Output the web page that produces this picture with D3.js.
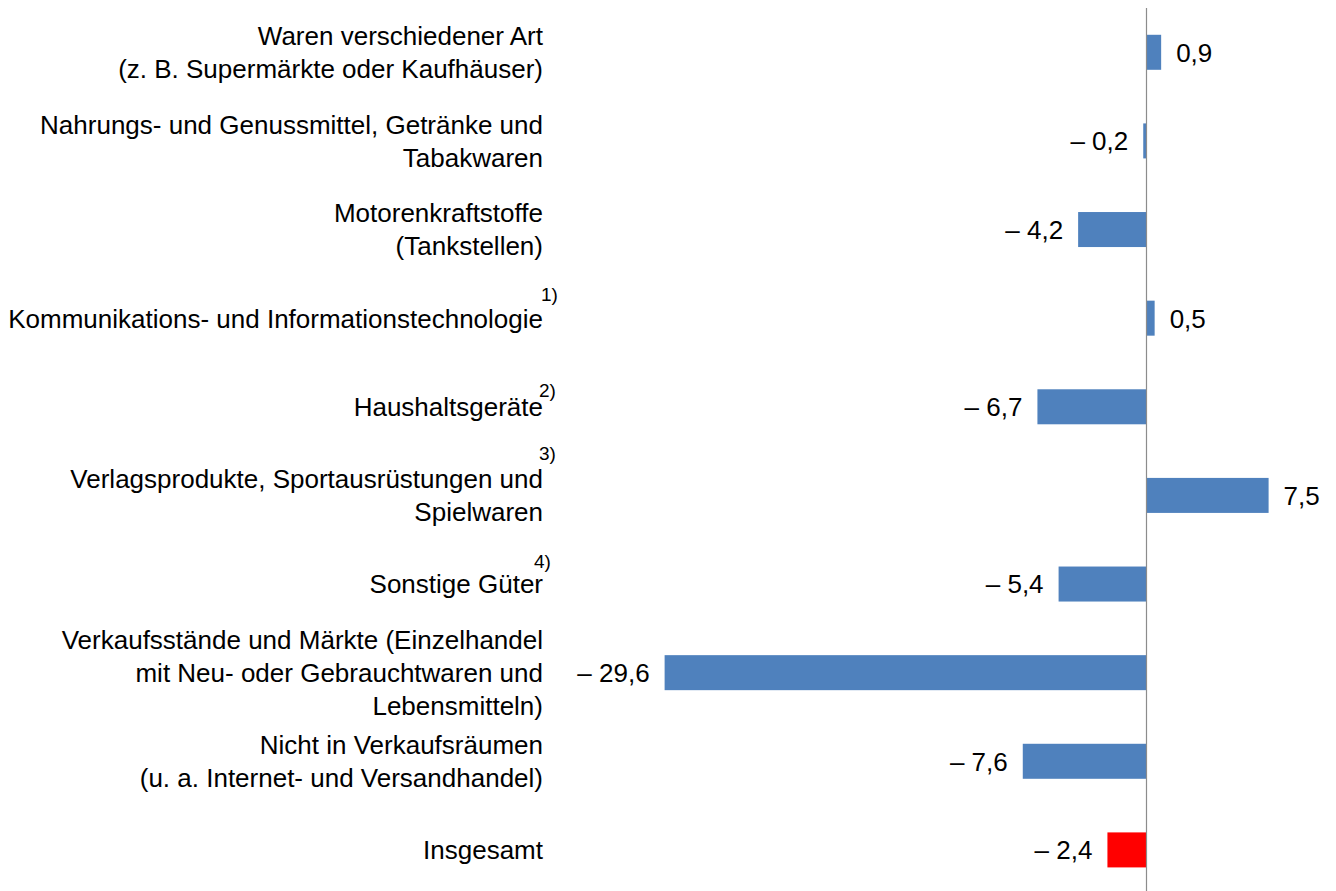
<!DOCTYPE html>
<html>
<head>
<meta charset="utf-8">
<script src="https://cdn.jsdelivr.net/npm/d3@7"></script>
<style>
  body { margin: 0; background: #fff; }
  text { font-family: "Liberation Sans", Arial, sans-serif; fill: #000; }
</style>
</head>
<body>
<div id="chart"></div>
<script>
// label lines per category (top to bottom)
const categories = [
  ["Waren verschiedener Art", "(z. B. Supermärkte oder Kaufhäuser)"],
  ["Nahrungs- und Genussmittel, Getränke und", "Tabakwaren"],
  ["Motorenkraftstoffe", "(Tankstellen)"],
  ["Kommunikations- und Informationstechnologie"],
  ["Haushaltsgeräte"],
  ["Verlagsprodukte, Sportausrüstungen und", "Spielwaren"],
  ["Sonstige Güter"],
  ["Verkaufsstände und Märkte (Einzelhandel", "mit Neu- oder Gebrauchtwaren und", "Lebensmitteln)"],
  ["Nicht in Verkaufsräumen", "(u. a. Internet- und Versandhandel)"],
  ["Insgesamt"]
]
const values = [0.9, -0.2, -4.2, 0.5, -6.7, 7.5, -5.4, -29.6, -7.6, -2.4]
const footnotes = ["", "", "", "1)", "2)", "3)", "4)", "", "", ""]

const width = 1336, height = 891
const zeroX = 1146.5, pxPerUnit = 16.28
const labelRight = 543
const lineH = 33
// where the footnote marks sit: [x, offset above first line centre]
const fnPos = {"1)": [541, 24], "2)": [539, 17], "3)": [539, 26], "4)": [534, 23]}

const svg = d3.select("#chart")
  .append("svg")
  .attr("width", width)
  .attr("height", height)

const x = d3.scaleLinear()
  .domain([-30, 10])
  .range([zeroX - 30 * pxPerUnit, zeroX + 10 * pxPerUnit])

const y = d3.scaleBand()
  .domain(d3.range(values.length))
  .range([8.2, 894])
  .paddingInner(0.605)
  .paddingOuter(0.3)

const fmt = v => (v < 0 ? "\u2013 " : "") + d3.format(".1f")(Math.abs(v)).replace(".", ",")

// bars
svg.selectAll(".bar")
  .data(values)
  .enter()
  .append("rect")
  .attr("class", "bar")
  .attr("x", d => x(Math.min(0, d)))
  .attr("width", d => Math.abs(x(d) - x(0)))
  .attr("y", (d, i) => y(i))
  .attr("height", y.bandwidth())
  .style("fill", (d, i) => i === values.length - 1 ? "#ff0000" : "#4f81bd")

// zero axis
svg.append("line")
  .attr("x1", x(0)).attr("x2", x(0))
  .attr("y1", 8).attr("y2", height)
  .style("stroke", "#8c8c8c")
  .style("stroke-width", 1.2)

// value labels
svg.selectAll(".val")
  .data(values)
  .enter()
  .append("text")
  .attr("class", "val")
  .attr("x", d => d < 0 ? x(d) - 15 : x(d) + 15)
  .attr("y", (d, i) => y(i) + y.bandwidth() / 2)
  .attr("dy", "0.36em")
  .attr("text-anchor", d => d < 0 ? "end" : "start")
  .style("font-size", "26px")
  .text(fmt)

const firstLineY = i => y(i) + y.bandwidth() / 2 - (categories[i].length - 1) * lineH / 2

// category labels
const labels = svg.selectAll(".cat")
  .data(categories)
  .enter()
  .append("text")
  .attr("class", "cat")
  .attr("text-anchor", "end")
  .style("font-size", "26px")
  .attr("y", (d, i) => firstLineY(i))

labels.selectAll("tspan")
  .data(d => d)
  .enter()
  .append("tspan")
  .attr("x", labelRight)
  .attr("dy", (d, j) => j === 0 ? "0.36em" : lineH)
  .text(d => d)

// footnote marks
svg.selectAll(".fn")
  .data(footnotes.map((f, i) => ({f, i})).filter(d => d.f !== ""))
  .enter()
  .append("text")
  .attr("class", "fn")
  .style("font-size", "19px")
  .attr("x", d => fnPos[d.f][0])
  .attr("y", d => firstLineY(d.i) - fnPos[d.f][1])
  .attr("dy", "0.36em")
  .text(d => d.f)
</script>
</body>
</html>
